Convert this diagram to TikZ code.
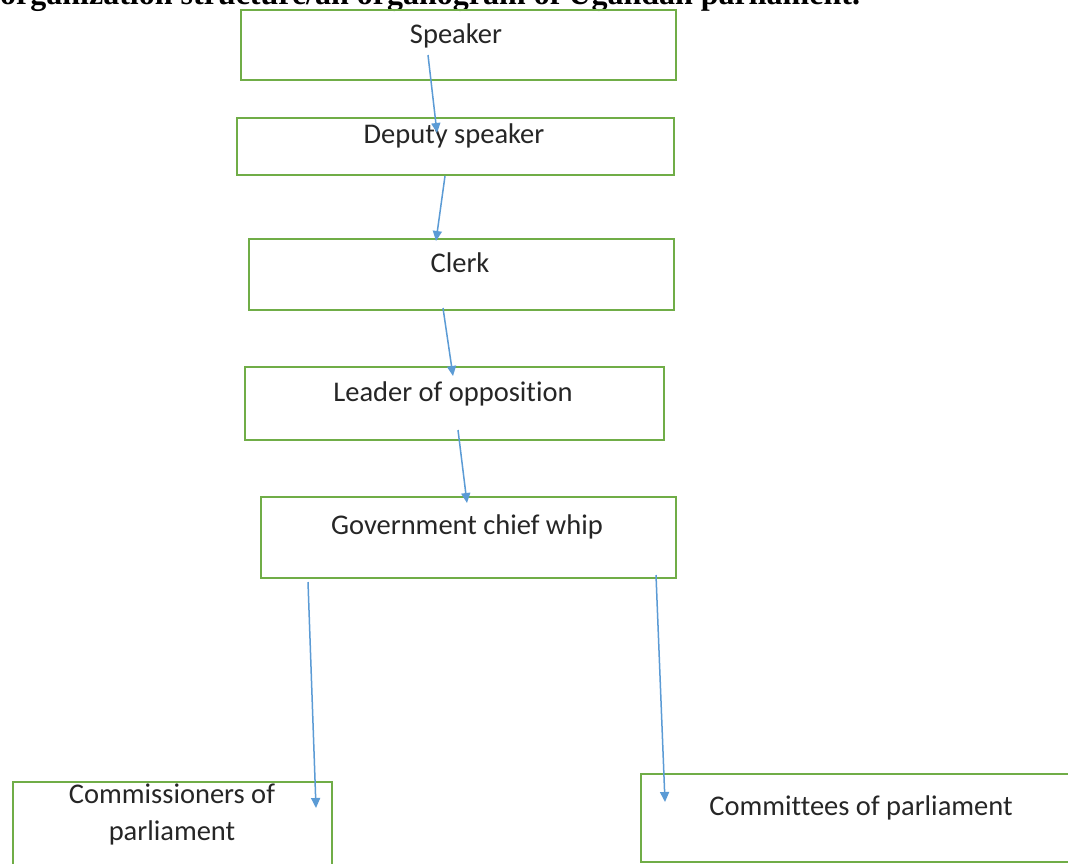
\documentclass[tikz,border=0pt]{standalone}
\usepackage{fontspec}
\setmainfont[Ligatures=NoCommon]{Carlito}
\newfontfamily\titlefont{Liberation Serif}
\usetikzlibrary{arrows.meta}
\definecolor{boxgreen}{HTML}{70AD47}
\definecolor{arrowblue}{HTML}{5B9BD5}
\tikzset{
  box/.style={draw=boxgreen, line width=2.2pt, fill=none, anchor=north west, inner sep=0pt},
  txt/.style={anchor=base, inner sep=0pt, text=black!85, font=\fontsize{28.5}{37}\selectfont},
  link/.style={draw=arrowblue, line width=1.5pt, -{Triangle[width=9pt,length=10pt]}},
}
\begin{document}
\begin{tikzpicture}[x=1pt,y=-1pt]
\useasboundingbox (0,0) rectangle (1068,863);
\clip (0,0) rectangle (1068,863);
\fill[white] (0,0) rectangle (1068,863);
% title (cut off at the top, as in the reference)
\node[anchor=base west, inner sep=0pt, font=\titlefont\bfseries\fontsize{32}{32}\selectfont] (title) at (0,4) {organization structure/an organogram of Ugandan parliament.};
% boxes
\node[box, minimum width=435, minimum height=70] (speaker) at (240,9) {};
\node[box, minimum width=437, minimum height=57] (deputy) at (236,117) {};
\node[box, minimum width=425, minimum height=71] (clerk) at (248,238) {};
\node[box, minimum width=419, minimum height=73] (leader) at (244,366) {};
\node[box, minimum width=415, minimum height=81] (whip) at (260,496) {};
\node[box, minimum width=319, minimum height=120] (commissioners) at (12,781) {};
\node[box, minimum width=440, minimum height=88] (committees) at (640,773) {};
% texts
\node[txt] (speakerT) at (456,43) {Speaker};
\node[txt] (deputyT) at (454,143) {Deputy speaker};
\node[txt] (clerkT) at (460,272) {Clerk};
\node[txt] (leaderT) at (453,401) {Leader of opposition};
\node[txt] (whipT) at (467,534) {Government chief whip};
\node[txt] (commT1) at (172,803) {Commissioners of};
\node[txt] (commT2) at (172,840) {parliament};
\node[txt] (cteeT) at (861,815) {Committees of parliament};
% connector ends
\coordinate (a1s) at (428,55);  \coordinate (a1e) at (437,133);
\coordinate (a2s) at (445,176); \coordinate (a2e) at (436,241);
\coordinate (a3s) at (443,308); \coordinate (a3e) at (453,376);
\coordinate (a4s) at (458,430); \coordinate (a4e) at (467,503);
\coordinate (a5s) at (308,582); \coordinate (a5e) at (316,808);
\coordinate (a6s) at (656,575); \coordinate (a6e) at (665,802);
% connectors
\draw[link] (a1s) -- (a1e);
\draw[link] (a2s) -- (a2e);
\draw[link] (a3s) -- (a3e);
\draw[link] (a4s) -- (a4e);
\draw[link] (a5s) -- (a5e);
\draw[link] (a6s) -- (a6e);
\end{tikzpicture}
\end{document}
